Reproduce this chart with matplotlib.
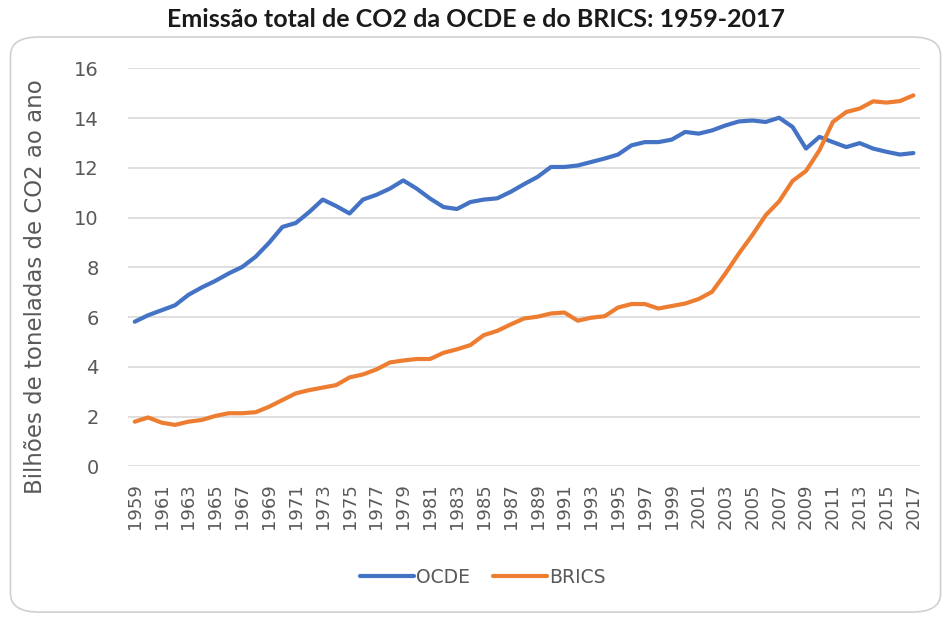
import matplotlib
matplotlib.use("Agg")
import matplotlib.pyplot as plt
from matplotlib.patches import FancyBboxPatch

anos = list(range(1959, 2018))

# Bilhões de toneladas de CO2
ocde = [5.82, 6.08, 6.28, 6.48, 6.90, 7.20, 7.46, 7.76, 8.02, 8.43,
        8.99, 9.63, 9.79, 10.23, 10.73, 10.47, 10.17, 10.73, 10.92, 11.17,
        11.50, 11.17, 10.77, 10.43, 10.35, 10.63, 10.73, 10.78, 11.04, 11.35,
        11.64, 12.04, 12.04, 12.10, 12.24, 12.38, 12.54, 12.91, 13.04, 13.04,
        13.14, 13.45, 13.38, 13.51, 13.71, 13.87, 13.91, 13.85, 14.02, 13.65,
        12.78, 13.25, 13.04, 12.84, 13.00, 12.78, 12.65, 12.54, 12.60]
brics = [1.80, 1.97, 1.76, 1.67, 1.80, 1.87, 2.03, 2.14, 2.14, 2.18,
         2.40, 2.67, 2.94, 3.07, 3.17, 3.27, 3.58, 3.70, 3.90, 4.18,
         4.26, 4.32, 4.32, 4.57, 4.71, 4.88, 5.28, 5.45, 5.71, 5.95,
         6.02, 6.15, 6.19, 5.86, 5.98, 6.04, 6.39, 6.53, 6.53, 6.35,
         6.45, 6.55, 6.73, 7.02, 7.76, 8.56, 9.30, 10.10, 10.66, 11.48,
         11.88, 12.71, 13.85, 14.25, 14.39, 14.68, 14.63, 14.69, 14.92]

cinza = '#595959'

fig = plt.figure(figsize=(9.52, 6.17), dpi=100)
ax = fig.add_axes([0.1345, 0.244, 0.832, 0.645])

# moldura arredondada
caixa = FancyBboxPatch((0.011, 0.008), 0.977, 0.932,
                       boxstyle="round,pad=0,rounding_size=0.03",
                       transform=fig.transFigure, facecolor='none',
                       edgecolor='#d0d0d0', linewidth=1.2)
fig.patches.append(caixa)

ax.plot(anos, ocde, color='#4472C4', linewidth=3, label='OCDE', solid_capstyle='round')
ax.plot(anos, brics, color='#ED7D31', linewidth=3, label='BRICS', solid_capstyle='round')

ax.set_xlim(1958.5, 2017.5)
ax.set_ylim(0, 16)
ax.set_yticks(range(0, 17, 2))
ax.set_xticks(anos[::2])
ax.set_xticklabels([str(a) for a in anos[::2]], rotation=90, fontsize=13, color=cinza)
ax.set_yticklabels([str(v) for v in range(0, 17, 2)], fontsize=14, color=cinza)
ax.tick_params(axis='x', length=0, pad=12)
ax.tick_params(axis='y', length=0, pad=21)
ax.grid(axis='y', color='#d9d9d9', linewidth=1.2)
ax.set_axisbelow(True)
for s in ax.spines.values():
    s.set_visible(False)

ax.set_ylabel('Bilhões de toneladas de CO2 ao ano', fontsize=16.5, color=cinza)
ax.yaxis.set_label_coords(-0.102, 0.451)

fig.suptitle('Emissão total de CO2 da OCDE e do BRICS: 1959-2017', family=['Lato', 'DejaVu Sans'],
             fontsize=18, fontweight='bold', color='#1a1a1a', y=0.987)

leg = fig.legend(loc='center', bbox_to_anchor=(0.507, 0.064), ncol=2, frameon=False,
                 prop={'size': 13.5}, handlelength=2.9,
                 handletextpad=0.1, columnspacing=1.2, labelcolor=cinza)

fig.savefig('out.png', dpi=100)
